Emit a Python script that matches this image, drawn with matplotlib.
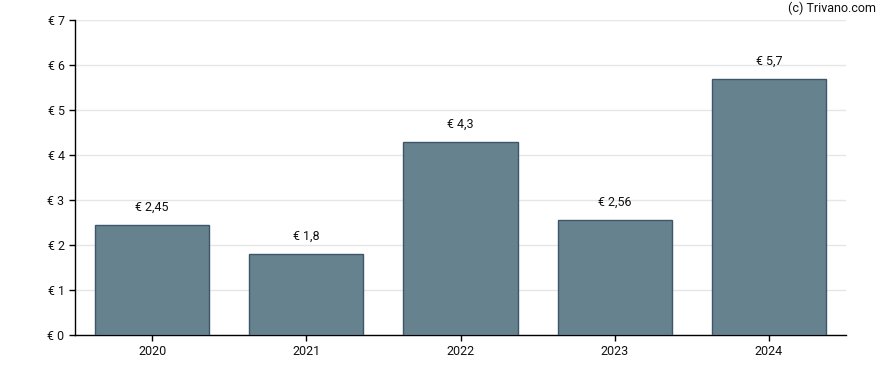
import matplotlib
matplotlib.use("Agg")
import matplotlib.pyplot as plt

years = ["2020", "2021", "2022", "2023", "2024"]
values = [2.45, 1.8, 4.3, 2.56, 5.7]
labels = ["€ 2,45", "€ 1,8", "€ 4,3", "€ 2,56", "€ 5,7"]
yticks = [0, 1, 2, 3, 4, 5, 6, 7]

plt.rcParams['font.family'] = ['Roboto', 'DejaVu Sans']

fig = plt.figure(figsize=(8.88, 3.70), dpi=100)
ax = fig.add_axes([75/888, 35/370, 771/888, 315/370])

x = list(range(len(years)))
ax.bar(x, values, width=0.74, color="#66828f", edgecolor="#3e5669", linewidth=1, zorder=3)
for xi, v, lab in zip(x, values, labels):
    ax.annotate(lab, (xi, v), xytext=(0, 8), textcoords="offset points",
                ha="center", va="bottom", fontsize=9, color="#111111")

ax.set_xlim(-0.5, 4.5)
ax.set_ylim(0, 7)
ax.set_xticks(x)
ax.set_xticklabels(years, fontsize=9)
ax.set_yticks(yticks)
ax.set_yticklabels([f"€ {t}" for t in yticks], fontsize=9)
ax.grid(axis="y", color="#e6e6e6", linewidth=1, zorder=0)
ax.set_axisbelow(True)
for s in ["top", "right"]:
    ax.spines[s].set_visible(False)
for s in ["left", "bottom"]:
    ax.spines[s].set_color("black")
    ax.spines[s].set_linewidth(1)
ax.tick_params(axis="both", length=4, width=1, color="black", labelcolor="#111111")
ax.tick_params(axis="x", pad=3)

fig.text(876/888, 1 - 8/370, "(c) Trivano.com", ha="right", va="center", fontsize=9, color="#111111")

fig.savefig("out.png", dpi=100)
